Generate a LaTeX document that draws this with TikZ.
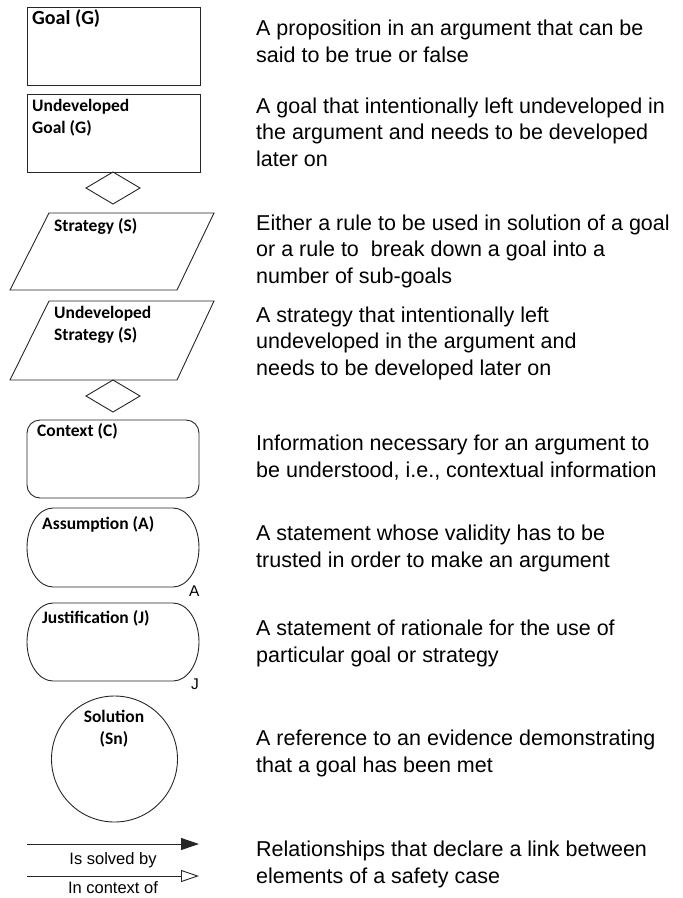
\documentclass[tikz,border=0pt]{standalone}
\usepackage{fontspec}
\setmainfont{Liberation Sans}
\newfontfamily\calibri{Carlito}
\usetikzlibrary{arrows.meta}

\begin{document}
\begin{tikzpicture}[x=1pt, y=-1pt,
  shapeline/.style={draw=black!85, line width=0.9pt},
  lbl/.style={font=\calibri\bfseries\fontsize{17.5}{21.5}\selectfont, anchor=base west, inner sep=0, align=left},
  biglbl/.style={lbl, font=\calibri\bfseries\fontsize{20}{24}\selectfont},
  tag/.style={font=\fontsize{15.5}{18}\selectfont, anchor=base west, inner sep=0},
  linklbl/.style={font=\fontsize{16.5}{20}\selectfont, anchor=base, inner sep=0},
  desc/.style={font=\fontsize{21.5}{26.5}\selectfont, anchor=base west, inner sep=0, align=left},
  link/.style={line width=0.9pt, draw=black!85}]
\useasboundingbox (0,0) rectangle (683,898);

% ---- symbols (left column); multi-line labels are placed by their last baseline ----
% goal
\draw[shapeline] (27,7) rectangle (200,85);
\node[biglbl] (goal) at (32,24) {Goal (G)};
% undeveloped goal
\draw[shapeline] (27,94) rectangle (200,172);
\node[lbl] (ugoal) at (32,133) {Undeveloped\\Goal (G)};
\draw[shapeline] (113,172) -- (140,188) -- (113,204) -- (86,188) -- cycle;
% strategy
\draw[shapeline] (49,213) -- (214,213) -- (177,290) -- (10,290) -- cycle;
\node[lbl] (strat) at (54,231) {Strategy (S)};
% undeveloped strategy
\draw[shapeline] (49,301) -- (214,301) -- (177,380) -- (10,380) -- cycle;
\node[lbl] (ustrat) at (54,340) {Undeveloped\\Strategy (S)};
\draw[shapeline] (113,380) -- (140,396) -- (113,412) -- (86,396) -- cycle;
% context
\draw[shapeline, rounded corners=13pt] (27,420) rectangle (199,498);
\node[lbl] (ctx) at (37,436) {Context (C)};
% assumption
\draw[shapeline] (53,508) -- (173,508) arc[start angle=-90, end angle=90, x radius=26, y radius=39.5]
  -- (53,587) arc[start angle=90, end angle=270, x radius=26, y radius=39.5] -- cycle;
\node[lbl] (asm) at (42,529) {Assumption (A)};
\node[tag] (asmtag) at (189,596) {A};
% justification
\draw[shapeline] (53,603) -- (173,603) arc[start angle=-90, end angle=90, x radius=26, y radius=39]
  -- (53,681) arc[start angle=90, end angle=270, x radius=26, y radius=39] -- cycle;
\node[lbl] (jus) at (42,623) {Justification (J)};
\node[tag] (justag) at (191,689) {J};
% solution
\draw[shapeline] (114.5,759) circle[radius=63];
\node[lbl, anchor=base, align=center] (sol) at (114,744) {Solution\\(Sn)};
% relationships
\coordinate (s1) at (27,844);
\coordinate (e1) at (199,844);
\coordinate (s2) at (27,876);
\coordinate (e2) at (199,876);
\draw[link, -{Triangle[length=18pt, width=12pt]}] (s1) -- (e1);
\draw[link, -{Triangle[open, length=18pt, width=12pt]}] (s2) -- (e2);
\node[linklbl] (solved) at (113,864) {Is solved by};
\node[linklbl] (inctx) at (113,893) {In context of};

% ---- descriptions (right column); placed by their last baseline ----
\node[desc] (d1) at (256,62) {A proposition in an argument that can be\\said to be true or false};
\node[desc] (d2) at (256,166) {A goal that intentionally left undeveloped in\\the argument and needs to be developed\\later on};
\node[desc] (d3) at (256,283) {Either a rule to be used in solution of a goal\\or a rule to\ \ break down a goal into a\\number of sub-goals};
\node[desc] (d4) at (256,375) {A strategy that intentionally left\\undeveloped in the argument and\\needs to be developed later on};
\node[desc] (d5) at (256,477) {Information necessary for an argument to\\be understood, i.e., contextual information};
\node[desc] (d6) at (256,567) {A statement whose validity has to be\\trusted in order to make an argument};
\node[desc] (d7) at (256,662) {A statement of rationale for the use of\\particular goal or strategy};
\node[desc] (d8) at (256,772) {A reference to an evidence demonstrating\\that a goal has been met};
\node[desc] (d9) at (256,883) {Relationships that declare a link between\\elements of a safety case};
\end{tikzpicture}
\end{document}
